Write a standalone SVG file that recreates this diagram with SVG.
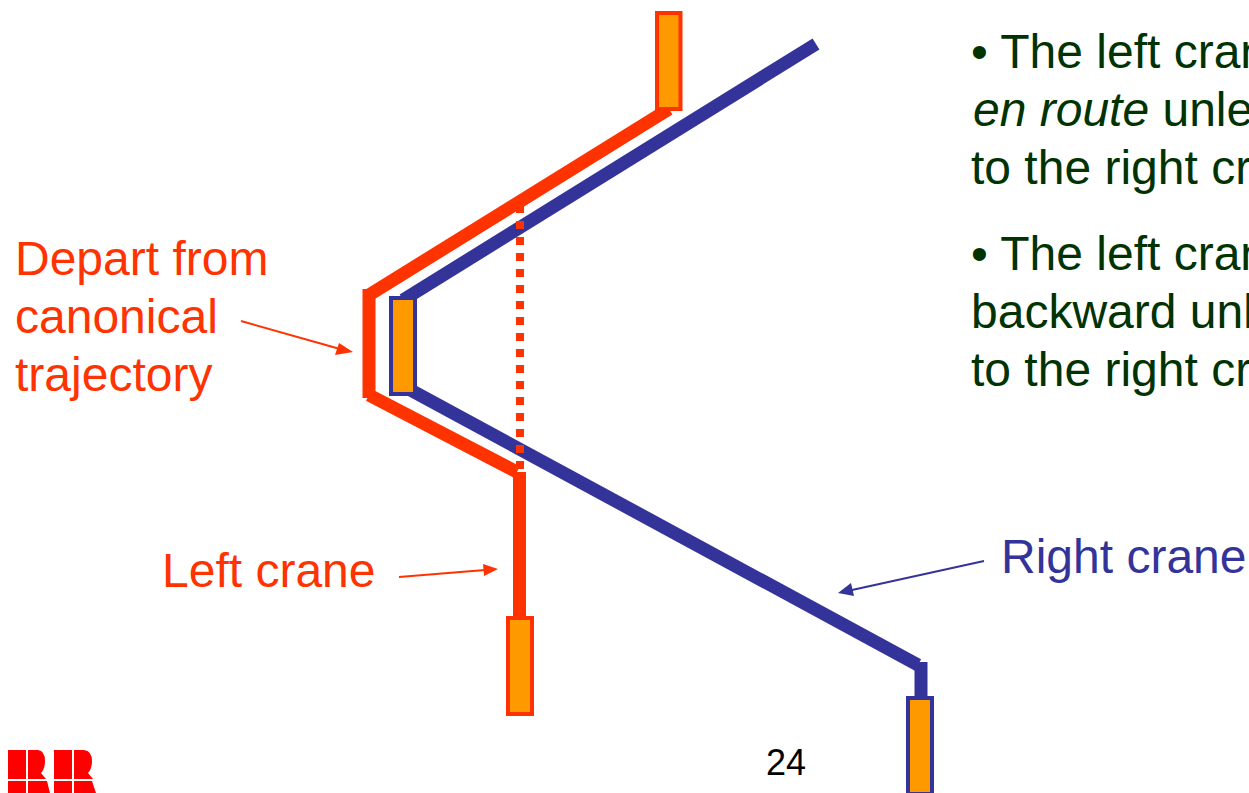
<svg xmlns="http://www.w3.org/2000/svg" width="1249" height="793" viewBox="0 0 1249 793">
<style>
text{font-family:"Liberation Sans",Arial,sans-serif;font-size:48px}
.g{fill:#003300}.r{fill:#ff3300}.b{fill:#333399}
.lr{fill:none;stroke:#ff3300;stroke-width:13}
.lb{fill:none;stroke:#333399;stroke-width:13}
.tr{fill:#ff9900;stroke:#ff3300;stroke-width:4}
.tb{fill:#ff9900;stroke:#333399;stroke-width:4}
.thin{fill:none;stroke:#ff3300;stroke-width:2}
.thinb{fill:none;stroke:#333399;stroke-width:2}
</style>
<rect width="1249" height="793" fill="#fff"/>
<g id="connectors">
<path class="lb" d="M816 44L403 300"/>
<path class="lb" d="M405 387L918 665"/>
<path class="lb" d="M921 662V700"/>
<path class="lr" d="M669 109L369 295"/>
<path class="lr" d="M369 289V398"/>
<path class="lr" d="M369 395L517 472"/>
<path class="lr" d="M519.500 472V620"/>
<path d="M520 205V470" fill="none" stroke="#ff3300" stroke-width="8" stroke-dasharray="8 8"/>
<path class="thin" d="M241 321L340 349"/><path class="r" d="M353 352L335 355L339 343Z"/>
<path class="thin" d="M399 577L485 570"/><path class="r" d="M498 569L484 576L483 564Z"/>
<path class="thinb" d="M984 561L852 590"/><path class="b" d="M838 593L851 583L854 596Z"/>
</g>
<g id="crane-left-top"><rect class="tr" x="657" y="13" width="23.500" height="96"/></g>
<g id="crane-center"><rect class="tb" x="391" y="298" width="24" height="96"/></g>
<g id="crane-left-bottom"><rect class="tr" x="508" y="618" width="24" height="96"/></g>
<g id="crane-right-bottom"><rect class="tb" x="908" y="698" width="24" height="96"/></g>
<g id="label-depart" class="r"><text x="15" y="275">Depart from</text><text x="15" y="333">canonical</text><text x="15" y="391">trajectory</text></g>
<g id="label-left"><text class="r" x="162" y="587">Left crane</text></g>
<g id="label-right"><text class="b" x="1001" y="573">Right crane</text></g>
<g id="bullets" class="g">
<text x="971" y="68">• The left cran</text>
<text x="973" y="126"><tspan font-style="italic">en route</tspan> unle</text>
<text x="971" y="184">to the right cr</text>
<text x="971" y="270">• The left cran</text>
<text x="971" y="328">backward unl</text>
<text x="971" y="386">to the right cr</text>
</g>
<g id="page"><text x="766" y="775" style="font-size:36px" fill="#000">24</text></g>
<g id="logo" fill="#ff0000">
<path d="M8 750H26V779H8ZM28 750H38Q45 751 45 761Q45 769 41 773L46 779H28ZM54 750H72V779H54ZM74 750H84Q92 751 92 761Q92 769 88 773L93 779H74Z"/>
<path d="M8 781H26V793H8ZM28 781H47L50 793H28ZM54 781H72V793H54ZM74 781H92L96 793H74Z"/>
</g>
</svg>
